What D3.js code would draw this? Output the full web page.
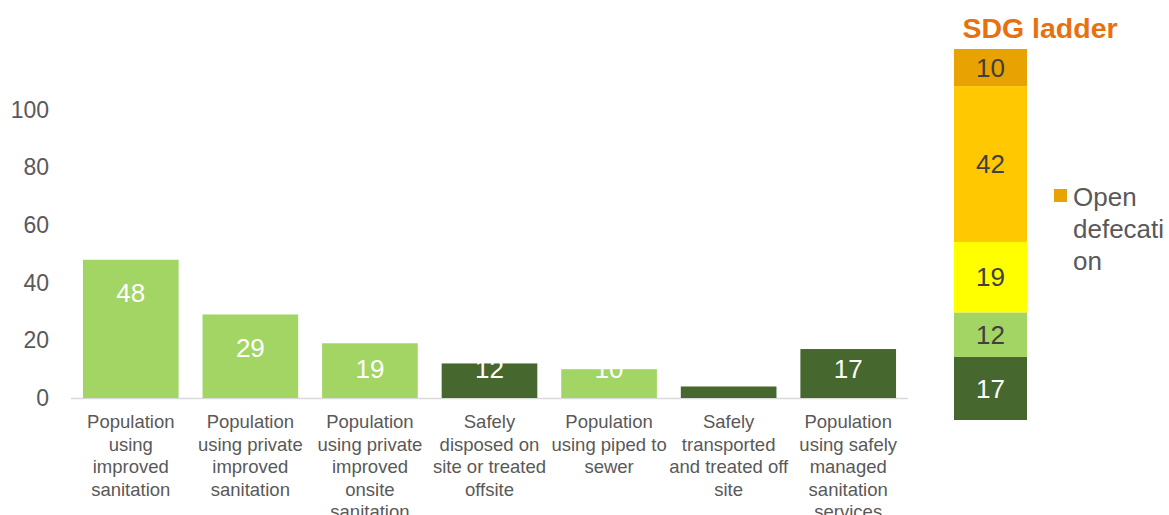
<!DOCTYPE html>
<html>
<head>
<meta charset="utf-8">
<script src="https://cdn.jsdelivr.net/npm/d3@7"></script>
<style>
  body { margin: 0; background: #fff; overflow: hidden; }
  svg { display: block; font-family: "Liberation Sans", Arial, sans-serif; }
</style>
</head>
<body>
<svg id="chart"></svg>
<script>
var categories = [
  ["Population", "using", "improved", "sanitation"],
  ["Population", "using private", "improved", "sanitation"],
  ["Population", "using private", "improved", "onsite", "sanitation"],
  ["Safely", "disposed on", "site or treated", "offsite"],
  ["Population", "using piped to", "sewer"],
  ["Safely", "transported", "and treated off", "site"],
  ["Population", "using safely", "managed", "sanitation", "services"]
];
var values = [48, 29, 19, 12, 10, 4, 17];
var valueLabels = ["48", "29", "19", "12", "10", "", "17"];
var barKinds = ["light", "light", "light", "dark", "light", "dark", "dark"];
var yTicks = [0, 20, 40, 60, 80, 100];

var ladderNames = ["Safely managed", "Basic", "Limited", "Unimproved", "Open defecation"];
var ladderValues = [17, 12, 19, 42, 10];
var legendLines = ["Open", "defecati", "on"];

var width = 1169, height = 515;
var lightGreen = "#a2d564", darkGreen = "#46682e";
var ladderColors = [darkGreen, lightGreen, "#ffff00", "#ffc800", "#e8a202"];
var ladderText = ["#ffffff", "#404040", "#404040", "#404040", "#404040"];

var svg = d3.select("#chart").attr("width", width).attr("height", height);

// left bar chart
var x = d3.scaleBand().domain(d3.range(values.length)).range([71, 908]).paddingInner(0.2).paddingOuter(0.1);
var y = d3.scaleLinear().domain([0, 100]).range([398, 110]);

var yAxis = svg.append("g")
  .attr("transform", "translate(55,0)")
  .call(d3.axisLeft(y).tickValues(yTicks).tickSize(0).tickPadding(6));
yAxis.select(".domain").remove();
yAxis.selectAll("text")
  .attr("fill", "#595959")
  .style("font-size", "23px")
  .style("font-family", "Liberation Sans, Arial, sans-serif");

svg.append("line")
  .attr("x1", 71).attr("x2", 908)
  .attr("y1", y(0) + 0.5).attr("y2", y(0) + 0.5)
  .attr("stroke", "#d9d9d9").attr("stroke-width", 1.5);

svg.selectAll("rect.bar")
  .data(values)
  .enter().append("rect")
  .attr("class", "bar")
  .attr("x", function(d, i){ return x(i); })
  .attr("y", function(d){ return y(d); })
  .attr("width", x.bandwidth())
  .attr("height", function(d){ return y(0) - y(d); })
  .attr("fill", function(d, i){ return barKinds[i] == "dark" ? darkGreen : lightGreen; });

// value labels sit just inside the bar top, never lower than a fixed line
svg.selectAll("text.val")
  .data(values)
  .enter().append("text")
  .attr("class", "val")
  .attr("x", function(d, i){ return x(i) + x.bandwidth()/2; })
  .attr("y", function(d){ return Math.min(y(d) + 33, 369); })
  .attr("dy", "0.35em")
  .attr("text-anchor", "middle")
  .attr("fill", "#fff")
  .style("font-size", "26px")
  .text(function(d, i){ return valueLabels[i]; });

var cats = svg.selectAll("text.cat")
  .data(categories)
  .enter().append("text")
  .attr("class", "cat")
  .attr("text-anchor", "middle")
  .attr("fill", "#595959")
  .style("font-size", "18.5px");
cats.each(function(lines, i){
  var t = d3.select(this);
  lines.forEach(function(line, j){
    t.append("tspan")
      .attr("x", x(i) + x.bandwidth()/2)
      .attr("y", 428 + j * 22.5)
      .text(line);
  });
});

// right side: SDG ladder stacked bar
svg.append("text")
  .attr("x", 1040).attr("y", 38)
  .attr("text-anchor", "middle")
  .attr("fill", "#e8700e")
  .style("font-size", "28.5px")
  .style("font-weight", "bold")
  .text("SDG ladder");

var ly = d3.scaleLinear().domain([0, 100]).range([420, 49]);
var stack = [];
var acc = 0;
ladderValues.forEach(function(v, i){
  stack.push({name: ladderNames[i], v: v, y0: acc, y1: acc + v, i: i});
  acc += v;
});

svg.selectAll("rect.ladder")
  .data(stack)
  .enter().append("rect")
  .attr("class", "ladder")
  .attr("x", 954).attr("width", 73)
  .attr("y", function(d){ return ly(d.y1); })
  .attr("height", function(d){ return ly(d.y0) - ly(d.y1); })
  .attr("fill", function(d){ return ladderColors[d.i]; });

svg.selectAll("text.lval")
  .data(stack)
  .enter().append("text")
  .attr("class", "lval")
  .attr("x", 990.5)
  .attr("y", function(d){ return (ly(d.y0) + ly(d.y1))/2; })
  .attr("dy", "0.35em")
  .attr("text-anchor", "middle")
  .attr("fill", function(d){ return ladderText[d.i]; })
  .style("font-size", "26px")
  .text(function(d){ return d.v; });

svg.append("rect")
  .attr("x", 1054).attr("y", 189)
  .attr("width", 13).attr("height", 13)
  .attr("fill", ladderColors[4]);

var leg = svg.append("text")
  .attr("fill", "#595959")
  .style("font-size", "26px");
legendLines.forEach(function(line, j){
  leg.append("tspan")
    .attr("x", 1073)
    .attr("y", 206 + j * 32)
    .text(line);
});
</script>
</body>
</html>
